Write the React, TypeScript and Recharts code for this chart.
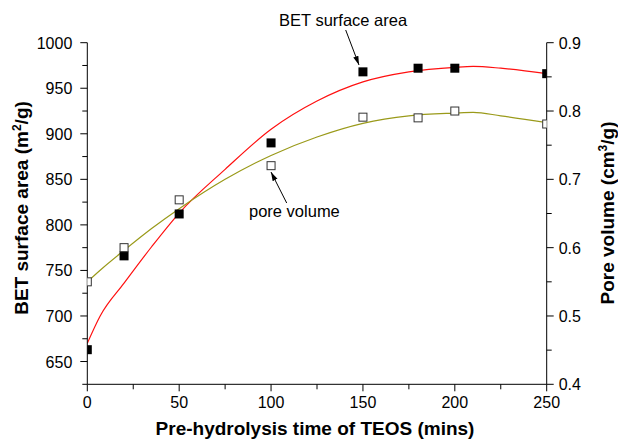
import * as React from 'react';
import { ComposedChart, Line, Scatter, XAxis, YAxis } from 'recharts';

// measured points
const times = [0, 20, 50, 100, 150, 180, 200, 250];
const betArea = [663, 766, 812, 890, 968, 972, 972, 966];
const poreVol = [0.55, 0.6, 0.67, 0.72, 0.791, 0.79, 0.8, 0.781];

// fitted curves
const fitTimes = [0, 7, 20, 35, 50, 75, 100, 125, 150, 175, 200, 210, 225, 250];
const betFit = [670, 700, 736, 776, 813, 861, 905, 936, 957, 968, 973, 974, 972, 966];
const poreFit = [0.55, 0.567, 0.596, 0.628, 0.657, 0.7, 0.735, 0.762, 0.782, 0.793, 0.797, 0.798, 0.793, 0.783];

const xTicks = [0, 25, 50, 75, 100, 125, 150, 175, 200, 225, 250];
const leftTicks = [625, 650, 675, 700, 725, 750, 775, 800, 825, 850, 875, 900, 925, 950, 975, 1000];
const rightTicks = [0.4, 0.45, 0.5, 0.55, 0.6, 0.65, 0.7, 0.75, 0.8, 0.85, 0.9];

const betPts = times.map((x, i) => ({ x, v: betArea[i] }));
const porePts = times.map((x, i) => ({ x, v: poreVol[i] }));
const betLine = fitTimes.map((x, i) => ({ x, v: betFit[i] }));
const poreLine = fitTimes.map((x, i) => ({ x, v: poreFit[i] }));

const font = '"Liberation Sans", Arial, sans-serif';

const BottomTick = (props: any) => {
  const { x, y, payload } = props;
  const major = payload.value % 50 === 0;
  return (
    <g>
      <line x1={x} x2={x} y1={y} y2={y + (major ? 7 : 5)} stroke="#000" />
      {major && (
        <text x={x} y={y + 24} textAnchor="middle" fontSize={16} fontFamily={font} fill="#000">
          {payload.value}
        </text>
      )}
    </g>
  );
};

const LeftTick = (props: any) => {
  const { x, y, payload } = props;
  const major = payload.value % 50 === 0;
  return (
    <g>
      <line x1={x} x2={x - (major ? 7 : 5)} y1={y} y2={y} stroke="#000" />
      {major && (
        <text x={x - 15} y={y + 6} textAnchor="end" fontSize={16} fontFamily={font} fill="#000">
          {payload.value}
        </text>
      )}
    </g>
  );
};

const RightTick = (props: any) => {
  const { x, y, payload } = props;
  const major = Math.round(payload.value * 100) % 10 === 0;
  return (
    <g>
      <line x1={x} x2={x + (major ? 7 : 5)} y1={y} y2={y} stroke="#000" />
      {major && (
        <text x={x + 12} y={y + 6} textAnchor="start" fontSize={16} fontFamily={font} fill="#000">
          {payload.value.toFixed(1)}
        </text>
      )}
    </g>
  );
};

const FilledSquare = (props: any) => (
  <rect x={props.cx - 4.5} y={props.cy - 4.5} width={9} height={9} fill="#000" />
);
const HollowSquare = (props: any) => (
  <rect x={props.cx - 4} y={props.cy - 4} width={8} height={8} fill="#fff" stroke="#333" strokeWidth={1} />
);

export default function App() {
  return (
    <div style={{ position: 'absolute', left: 0, top: 0, width: 618, height: 440 }}>
      <ComposedChart width={618} height={440} margin={{ top: 42.7, right: 0, bottom: 0, left: 0 }}>
        <XAxis
          dataKey="x"
          type="number"
          domain={[0, 250]}
          ticks={xTicks}
          interval={0}
          tickSize={0}
          tickMargin={0}
          tick={<BottomTick />}
          height={55.7}
          stroke="#000"
          allowDataOverflow
        />
        <YAxis
          yAxisId="left"
          dataKey="v"
          type="number"
          domain={[625, 1000]}
          ticks={leftTicks}
          interval={0}
          tickSize={0}
          tickMargin={0}
          tick={<LeftTick />}
          width={87.3}
          stroke="#000"
          allowDataOverflow
        />
        <YAxis
          yAxisId="right"
          orientation="right"
          dataKey="v"
          type="number"
          domain={[0.4, 0.9]}
          ticks={rightTicks}
          interval={0}
          tickSize={0}
          tickMargin={0}
          tick={<RightTick />}
          width={71.3}
          stroke="#000"
          allowDataOverflow
        />
        <Line yAxisId="left" data={betLine} dataKey="v" type="monotone" stroke="#ff1010" strokeWidth={1.2} dot={false} isAnimationActive={false} />
        <Line yAxisId="right" data={poreLine} dataKey="v" type="monotone" stroke="#9a9a1a" strokeWidth={1.2} dot={false} isAnimationActive={false} />
        <Scatter yAxisId="left" data={betPts} dataKey="v" shape={<FilledSquare />} isAnimationActive={false} />
        <Scatter yAxisId="right" data={porePts} dataKey="v" shape={<HollowSquare />} isAnimationActive={false} />
      </ComposedChart>
      <svg width={618} height={440} style={{ position: 'absolute', left: 0, top: 0, pointerEvents: 'none' }}>
        <defs>
          <marker id="arr" viewBox="0 0 10 10" refX="10" refY="5" markerWidth="9" markerHeight="9" orient="auto">
            <path d="M0,2 L10,5 L0,8 z" fill="#000" />
          </marker>
        </defs>
        <text x={279} y={26} fontSize={16.5} fontFamily={font} fill="#000">BET surface area</text>
        <line x1={345.7} y1={30} x2={359} y2={65} stroke="#000" strokeWidth={1} markerEnd="url(#arr)" />
        <text x={249} y={217} fontSize={16.5} fontFamily={font} fill="#000">pore volume</text>
        <line x1={286.7} y1={203} x2={271} y2={172} stroke="#000" strokeWidth={1} markerEnd="url(#arr)" />
        <text
          transform="translate(28,208) rotate(-90)"
          textAnchor="middle"
          fontSize={19}
          fontWeight="bold"
          fontFamily={font}
          fill="#000"
        >
          BET surface area (m<tspan dy={-7} fontSize={12}>2</tspan><tspan dy={7}>/g)</tspan>
        </text>
        <text
          transform="translate(614,213) rotate(-90)"
          textAnchor="middle"
          fontSize={19}
          fontWeight="bold"
          fontFamily={font}
          fill="#000"
        >
          Pore volume (cm<tspan dy={-7} fontSize={12}>3</tspan><tspan dy={7}>/g)</tspan>
        </text>
        <text x={315} y={435} textAnchor="middle" fontSize={19} fontWeight="bold" fontFamily={font} fill="#000">
          Pre-hydrolysis time of TEOS (mins)
        </text>
      </svg>
    </div>
  );
}
